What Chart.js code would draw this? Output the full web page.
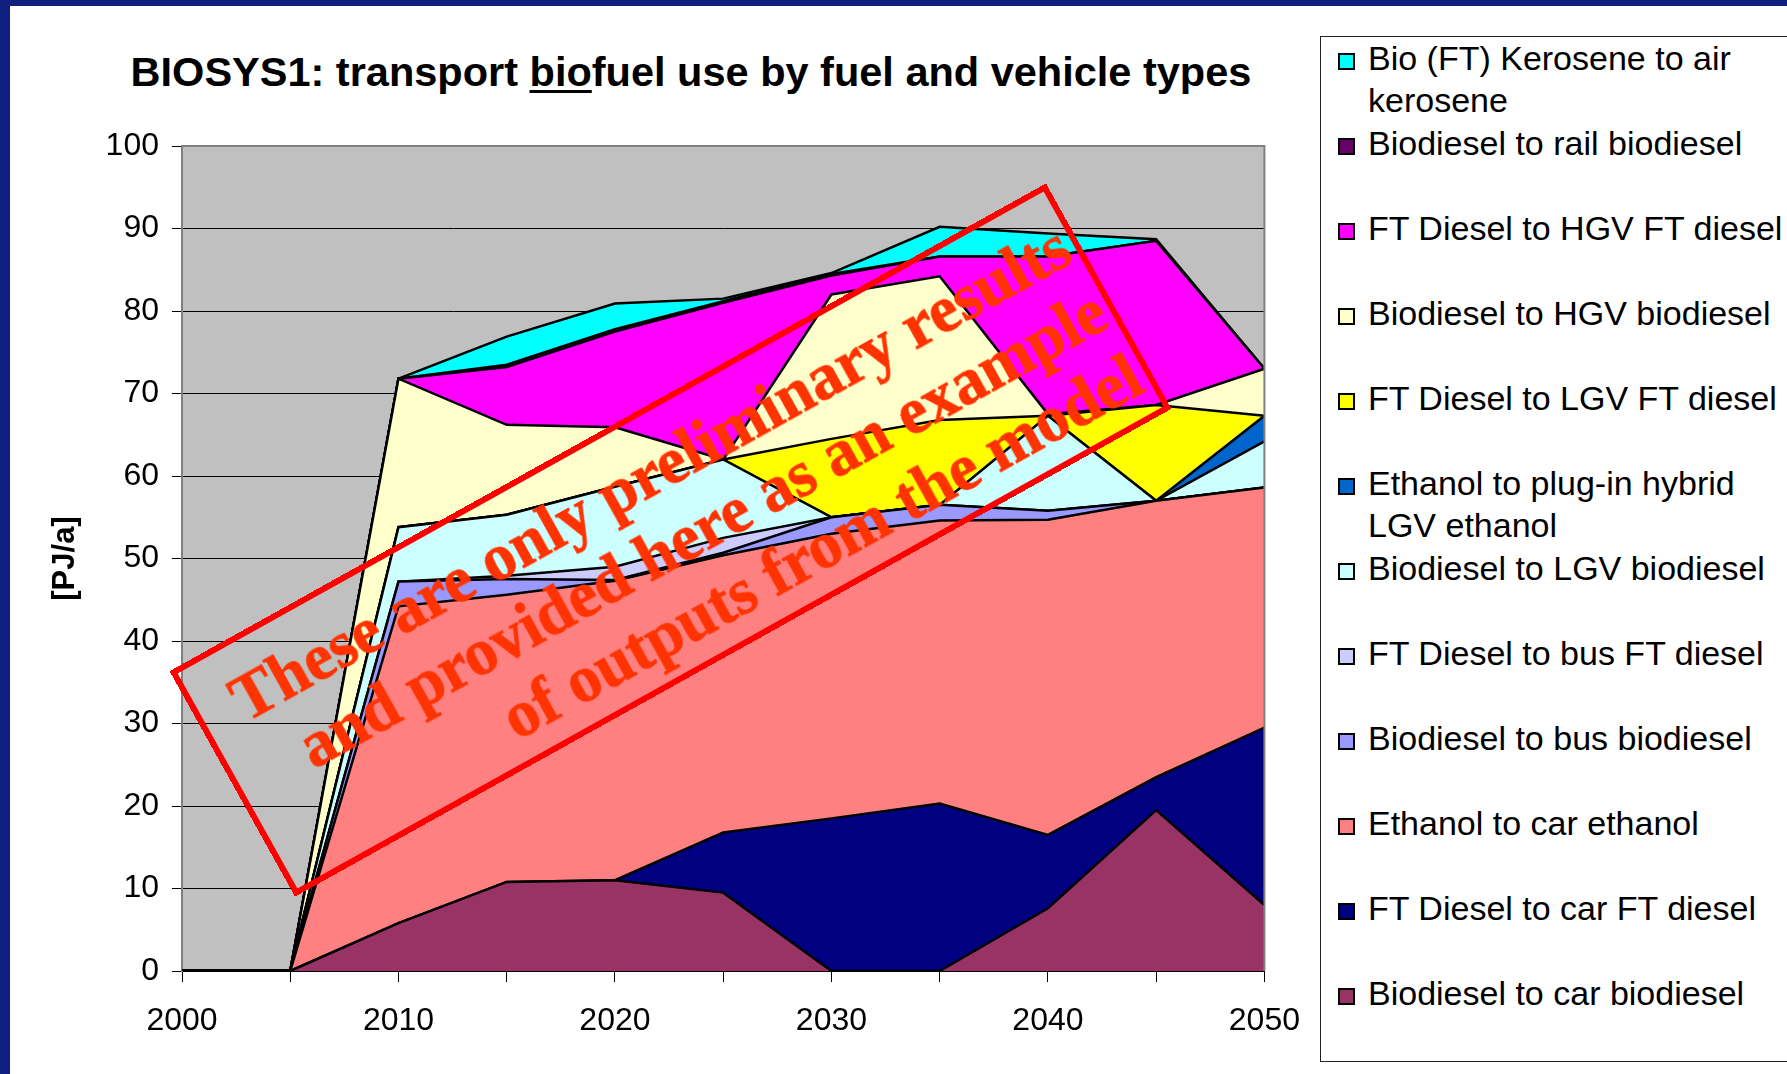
<!DOCTYPE html>
<html>
<head>
<meta charset="utf-8">
<script src="https://cdn.jsdelivr.net/npm/chart.js@4.4.1/dist/chart.umd.min.js"></script>
<style>
  html, body { margin: 0; padding: 0; background: #ffffff; }
  body { width: 1787px; height: 1074px; position: relative; overflow: hidden; font-family: "Liberation Sans", Arial, sans-serif; }
  #navyTop { position: absolute; left: 0; top: 0; width: 1787px; height: 6px; background: #101F80; }
  #navyLeft { position: absolute; left: 0; top: 0; width: 10px; height: 1074px; background: #101F80; }
  #chartWrap { position: absolute; left: 0; top: 0; width: 1320px; height: 1074px; }
  #title { position: absolute; left: 0; top: 48px; width: 1382px; text-align: center; font: bold 41.5px/48px "Liberation Sans", Arial, sans-serif; color: #000; white-space: nowrap; }
  #title u { text-decoration-thickness: 3px; text-underline-offset: 4px; }
  #legend { position: absolute; left: 1320px; top: 36px; width: 520px; height: 1026px; border: 1px solid #222; background: #fff; box-sizing: border-box; }
  .lg-item { position: absolute; left: 47px; width: 430px; font: 34px/42px "Liberation Sans", Arial, sans-serif; color: #000; }
  .lg-box { position: absolute; left: 17px; width: 17px; height: 17px; box-sizing: border-box; border: 2px solid #000; }
  #wm { position: absolute; left: 169px; top: 411px; width: 1003px; height: 258px; box-sizing: border-box; border: 6px solid #FF0000; transform: rotate(-29.1deg); display: flex; flex-direction: column; justify-content: center; align-items: flex-end; padding-right: 6px; padding-top: 10px; font: bold 65px/74px "Liberation Serif", "Times New Roman", serif; color: #FF3300; -webkit-text-stroke: 0.8px #FF3300; white-space: nowrap; pointer-events: none; }
</style>
</head>
<body>
<div id="navyTop"></div>
<div id="navyLeft"></div>
<div id="title">BIOSYS1: transport <u>bio</u>fuel use by fuel and vehicle types</div>
<div id="chartWrap"><canvas id="c" width="1320" height="1074"></canvas></div>
<div id="legend"></div>
<div id="wm">
  <div>These are only preliminary results</div>
  <div>and provided here as an example</div>
  <div>of outputs from  the model</div>
</div>
<script>
// ---- data (PJ/a), stacked from bottom to top ----
const years = [2000, 2005, 2010, 2015, 2020, 2025, 2030, 2035, 2040, 2045, 2050];
const xTickLabels = [2000, 2010, 2020, 2030, 2040, 2050];

const carBiodiesel     = [0, 0, 5.8, 10.8, 11.0, 9.5, 0, 0, 7.6, 19.5, 8.0];
const carFTDiesel      = [0, 0, 0, 0, 0, 7.3, 18.5, 20.3, 8.9, 4.0, 21.5];
const carEthanol       = [0, 0, 38.4, 34.8, 36.3, 33.6, 34.5, 34.3, 38.2, 33.5, 29.1];
const busBiodiesel     = [0, 0, 3.0, 1.9, 0.1, 0.3, 2.0, 1.9, 1.1, 0, 0];
const busFTDiesel      = [0, 0, 0, 0.4, 1.6, 1.8, 0, 0, 0, 0, 0];
const lgvBiodiesel     = [0, 0, 6.6, 7.4, 9.7, 9.5, 0, 0, 11.5, 0, 5.6];
const lgvPlugInEthanol = [0, 0, 0, 0, 0, 0, 0, 0, 0, 0, 3.1];
const lgvFTDiesel      = [0, 0, 0, 0, 0, 0, 9.5, 10.3, 0, 11.6, 0];
const hgvBiodiesel     = [0, 0, 18.0, 10.9, 7.2, 0, 17.5, 17.4, 0.2, 0, 5.7];
const hgvFTDiesel      = [0, 0, 0, 7.0, 11.6, 19.0, 2.3, 2.4, 19.1, 19.9, 0];
const railBiodiesel    = [0, 0, 0, 0.3, 0.3, 0.2, 0.2, 0, 0, 0, 0];
const airKerosene      = [0, 0, 0, 3.4, 3.1, 0.3, 0.1, 3.6, 2.8, 0.2, 0];

const seriesNames = [
  'Biodiesel to car biodiesel',
  'FT Diesel to car FT diesel',
  'Ethanol to car ethanol',
  'Biodiesel to bus biodiesel',
  'FT Diesel to bus FT diesel',
  'Biodiesel to LGV biodiesel',
  'Ethanol to plug-in hybrid LGV ethanol',
  'FT Diesel to LGV FT diesel',
  'Biodiesel to HGV biodiesel',
  'FT Diesel to HGV FT diesel',
  'Biodiesel to rail biodiesel',
  'Bio (FT) Kerosene to air kerosene'
];
const seriesValues = [carBiodiesel, carFTDiesel, carEthanol, busBiodiesel, busFTDiesel,
  lgvBiodiesel, lgvPlugInEthanol, lgvFTDiesel, hgvBiodiesel, hgvFTDiesel, railBiodiesel, airKerosene];

// ---- styles ----
const seriesColors = ['#993366', '#000080', '#FF8080', '#9999FF', '#CCCCFF', '#CCFFFF',
  '#0066CC', '#FFFF00', '#FFFFCC', '#FF00FF', '#660066', '#00FFFF'];

const FONT = 'Liberation Sans';

const plotFrame = {
  id: 'plotFrame',
  beforeDraw(chart) {
    const { ctx, chartArea: a } = chart;
    ctx.save();
    ctx.fillStyle = '#C0C0C0';
    ctx.fillRect(a.left, a.top, a.right - a.left, a.bottom - a.top);
    ctx.restore();
  },
  afterDraw(chart) {
    const { ctx, chartArea: a } = chart;
    ctx.save();
    ctx.strokeStyle = '#808080';
    ctx.lineWidth = 2;
    ctx.beginPath();
    ctx.moveTo(a.left, a.top);
    ctx.lineTo(a.right, a.top);
    ctx.lineTo(a.right, a.bottom);
    ctx.stroke();
    ctx.restore();
  }
};

const chart = new Chart(document.getElementById('c'), {
  type: 'line',
  data: {
    datasets: seriesNames.map((name, i) => ({
      label: name,
      data: years.map((yr, j) => ({ x: yr, y: seriesValues[i][j] })),
      backgroundColor: seriesColors[i],
      borderColor: '#000000',
      borderWidth: 2.5,
      fill: i === 0 ? 'origin' : '-1',
      pointRadius: 0,
      tension: 0
    }))
  },
  options: {
    responsive: false,
    animation: false,
    layout: { padding: { left: 0, right: 55, top: 146, bottom: 0 } },
    plugins: { legend: { display: false }, title: { display: false }, tooltip: { enabled: false } },
    scales: {
      x: {
        type: 'linear', min: 2000, max: 2050,
        afterBuildTicks: s => { s.ticks = years.map(v => ({ value: v })); },
        ticks: {
          autoSkip: false, maxRotation: 0, color: '#000', padding: 20,
          font: { family: FONT, size: 32 },
          callback: v => xTickLabels.includes(v) ? String(v) : ''
        },
        grid: { drawOnChartArea: false, drawTicks: true, tickLength: 11, color: '#000', lineWidth: 1 },
        border: { display: true, color: '#000', width: 2 },
        afterFit: s => { s.height = 103; }
      },
      y: {
        stacked: true, min: 0, max: 100,
        ticks: { stepSize: 10, color: '#000', padding: 13, font: { family: FONT, size: 32 } },
        grid: { color: '#000', lineWidth: 1, tickLength: 10 },
        border: { display: true, color: '#808080', width: 2 },
        title: {
          display: true, text: '[PJ/a]', color: '#000',
          font: { family: FONT, size: 31, weight: 'bold' },
          padding: { top: 47, bottom: 0 }
        },
        afterFit: s => { s.width = 182; }
      }
    }
  },
  plugins: [plotFrame]
});

// ---- HTML legend built from the chart's datasets (top series first) ----
const legendEl = document.getElementById('legend');
const ds = chart.data.datasets;
for (let row = 0, i = ds.length - 1; i >= 0; i--, row++) {
  const box = document.createElement('div');
  box.className = 'lg-box';
  box.style.background = ds[i].backgroundColor;
  box.style.top = (21 + 85 * row + 3 - 8.5) + 'px';
  legendEl.appendChild(box);
  const txt = document.createElement('div');
  txt.className = 'lg-item';
  txt.style.top = (85 * row) + 'px';
  txt.textContent = ds[i].label;
  legendEl.appendChild(txt);
}
</script>
</body>
</html>
